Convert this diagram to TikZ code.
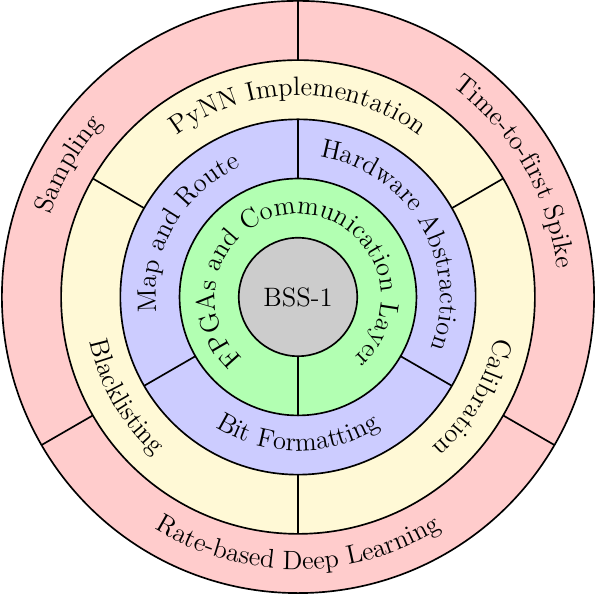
\documentclass[tikz,border=0pt]{standalone}
\usepackage{tikz}
\usetikzlibrary{decorations.text}
\usepackage{xcolor}

\definecolor{cream}{RGB}{255,249,214}
\newcommand{\ringfont}{\fontsize{12.8}{15}\selectfont}

\begin{document}
\begin{tikzpicture}[
    ring/.style={circle, draw, thick, inner sep=0pt, outer sep=0pt, minimum size=#1},
    divider/.style={thick},
    arclabel/.style={decorate, decoration={text along path, text align=center, text={|\ringfont|#1}}}
]
\useasboundingbox (-5.032,-5.015) rectangle (5.032,5.015);

% rings, outermost first
\node[ring=10cm, fill=red!20] (apps) at (0,0) {};
\node[ring=8cm, fill=cream] (pynn) at (0,0) {};
\node[ring=6cm, fill=blue!20] (lowlevel) at (0,0) {};
\node[ring=4cm, fill=green!30] (comm) at (0,0) {};
\node[ring=2cm, fill=gray!40, font=\ringfont] (bss) at (0,0) {BSS-1};

% sector borders
\draw[divider] (comm.270) -- (bss.270);
\foreach \a in {90,210,330} {
  \draw[divider] (lowlevel.\a) -- (comm.\a);
  \draw[divider] (apps.\a) -- (pynn.\a);
}
\foreach \a in {30,150,270}
  \draw[divider] (pynn.\a) -- (lowlevel.\a);

% labels along the rings
\path[arclabel={FPGAs and Communication Layer}] (270:1.4) arc[start angle=270, end angle=-90, radius=1.4];

\path[arclabel={Map and Route}] (210:2.4) arc[start angle=210, end angle=90, radius=2.4];
\path[arclabel={Hardware Abstraction}] (90:2.4) arc[start angle=90, end angle=-30, radius=2.4];
\path[arclabel={Bit Formatting}] (210:2.6) arc[start angle=210, end angle=330, radius=2.6];

\path[arclabel={PyNN Implementation}] (150:3.4) arc[start angle=150, end angle=30, radius=3.4];
\path[arclabel={Calibration}] (30:3.4) arc[start angle=30, end angle=-90, radius=3.4];
\path[arclabel={Blacklisting}] (150:3.6) arc[start angle=150, end angle=270, radius=3.6];

\path[arclabel={Sampling}] (210:4.4) arc[start angle=210, end angle=90, radius=4.4];
\path[arclabel={Time-to-first Spike}] (90:4.4) arc[start angle=90, end angle=-30, radius=4.4];
\path[arclabel={Rate-based Deep Learning}] (210:4.6) arc[start angle=210, end angle=330, radius=4.6];

\end{tikzpicture}
\end{document}
